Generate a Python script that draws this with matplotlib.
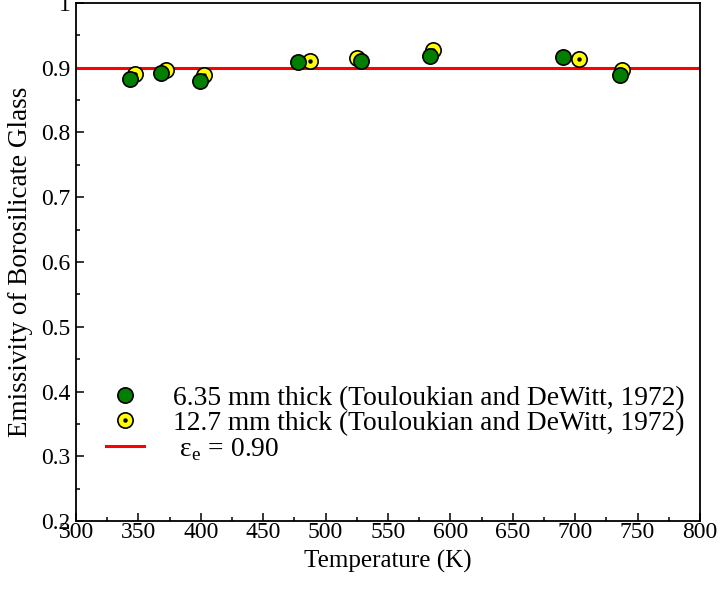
import matplotlib
matplotlib.use("Agg")
import matplotlib.pyplot as plt
from matplotlib.ticker import MultipleLocator

plt.rcParams['font.family'] = ['Liberation Serif', 'DejaVu Serif']
plt.rcParams['mathtext.fontset'] = 'custom'
plt.rcParams['mathtext.rm'] = 'Liberation Serif'

# 6.35 mm thick samples
temp_thin = [343, 368, 399, 478, 528.5, 584, 690, 736]
emis_thin = [0.882, 0.892, 0.880, 0.909, 0.911, 0.918, 0.916, 0.889]

# 12.7 mm thick samples
temp_thick = [347.5, 372.4, 402.2, 487.7, 525.3, 585.8, 702.7, 737.5]
emis_thick = [0.891, 0.897, 0.889, 0.910, 0.915, 0.927, 0.914, 0.896]

eps_e = 0.90

fig = plt.figure(figsize=(7.2, 5.96), dpi=100)
ax = fig.add_axes([0.1056, 0.1258, 0.8666, 0.8692])

line, = ax.plot([300, 800], [eps_e, eps_e], color='#ff0000', lw=2.2, zorder=2)
yel, = ax.plot(temp_thick, emis_thick, 'o', ms=11, mfc='#ffff00', mec='black', mew=1.2, zorder=3)
dot, = ax.plot(temp_thick, emis_thick, 'o', ms=2.2, mfc='black', mec='black', zorder=4)
grn, = ax.plot(temp_thin, emis_thin, 'o', ms=11, mfc='#007f00', mec='black', mew=1.2, zorder=5)

ax.set_xlim(300, 800)
ax.set_ylim(0.2, 1.0)
ax.xaxis.set_major_locator(MultipleLocator(50))
ax.xaxis.set_minor_locator(MultipleLocator(25))
ax.yaxis.set_minor_locator(MultipleLocator(0.05))
ax.set_yticks([0.2, 0.3, 0.4, 0.5, 0.6, 0.7, 0.8, 0.9, 1.0])
ax.set_yticklabels(['0.2', '0.3', '0.4', '0.5', '0.6', '0.7', '0.8', '0.9', '1'])
ax.tick_params(which='both', direction='in', labelsize=17, width=1.1)
ax.tick_params(which='major', length=6)
ax.tick_params(which='minor', length=3)
ax.tick_params(axis='x', pad=1)
ax.tick_params(axis='y', pad=4)
for s in ax.spines.values():
    s.set_linewidth(1.3)

ax.set_xlabel('Temperature (K)', fontsize=18, labelpad=5)
ax.set_ylabel('Emissivity of Borosilicate Glass', fontsize=19.5, labelpad=6)

ax.legend([grn, (yel, dot), line],
          ['6.35 mm thick (Touloukian and DeWitt, 1972)',
           '12.7 mm thick (Touloukian and DeWitt, 1972)',
           r' ε$_{\mathrm{e}}$ = 0.90'],
          loc='lower left', bbox_to_anchor=(0.031, 0.091), borderaxespad=0,
          frameon=False, fontsize=19.8, handlelength=1.38, handletextpad=1.03,
          labelspacing=0.0)

fig.savefig('out.png', dpi=100)
